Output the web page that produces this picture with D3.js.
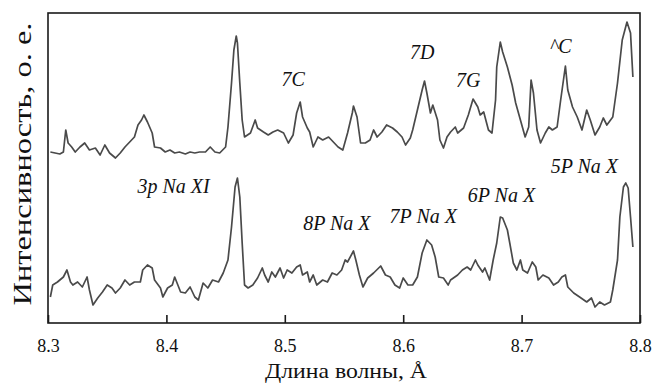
<!DOCTYPE html>
<html>
<head>
<meta charset="utf-8">
<script src="https://cdn.jsdelivr.net/npm/d3@7"></script>
<style>
  body { margin: 0; background: #fff; }
  svg { display: block; }
  svg text { font-family: "Liberation Serif", "Times New Roman", Times, serif; fill: #111; }
</style>
</head>
<body>
<div id="container"></div>
<script>
/* DATA */
// wavelength, angstrom
var topLambda = [8.302,8.306,8.310,8.313,8.315,8.317,8.320,8.323,8.327,8.331,8.335,8.340,8.344,8.348,8.352,8.357,8.361,8.365,8.369,8.373,
  8.376,8.379,8.381,8.384,8.388,8.390,8.395,8.399,8.403,8.407,8.411,8.416,8.420,8.424,8.428,8.433,8.437,8.441,8.445,8.450,
  8.452,8.455,8.457,8.459,8.460,8.462,8.464,8.466,8.471,8.475,8.477,8.482,8.486,8.490,8.494,8.499,8.503,8.507,8.510,8.513,
  8.515,8.519,8.521,8.524,8.528,8.532,8.537,8.541,8.545,8.549,8.553,8.557,8.558,8.561,8.564,8.568,8.572,8.575,8.578,8.582,
  8.586,8.591,8.595,8.599,8.602,8.606,8.608,8.612,8.616,8.618,8.620,8.623,8.625,8.629,8.631,8.634,8.637,8.640,8.644,8.646,
  8.651,8.655,8.659,8.663,8.665,8.668,8.672,8.675,8.678,8.679,8.682,8.684,8.688,8.692,8.695,8.699,8.703,8.706,8.708,8.710,
  8.713,8.716,8.720,8.723,8.726,8.730,8.733,8.737,8.739,8.743,8.747,8.751,8.755,8.758,8.762,8.766,8.769,8.772,8.777,8.781,
  8.785,8.789,8.792,8.794]
// intensity, arb. units (upper spectrum, shifted up)
var topIntensity = [171,170,169,171,193,180,176,171,176,180,173,175,168,178,170,165,170,176,181,186,
  198,203,208,201,190,176,175,171,173,170,171,169,171,170,171,171,176,171,170,176,
  196,240,273,287,280,240,203,186,190,203,195,191,188,191,193,190,180,188,210,221,
  206,195,191,176,186,183,186,181,176,173,190,210,217,206,180,180,183,193,186,191,
  198,195,191,186,178,185,193,213,233,242,230,210,218,203,183,175,186,191,196,190,
  195,208,224,216,208,211,193,190,223,256,281,271,256,238,220,203,186,196,243,230,
  193,180,190,196,193,196,223,257,233,216,206,193,213,203,188,196,205,198,206,240,
  283,301,290,246]

var bottomLambda = [8.302,8.304,8.308,8.313,8.316,8.319,8.321,8.325,8.329,8.333,8.335,8.338,8.342,8.346,8.350,8.354,8.357,8.361,8.365,8.369,
  8.373,8.378,8.380,8.384,8.388,8.390,8.395,8.397,8.401,8.405,8.407,8.412,8.416,8.420,8.424,8.427,8.431,8.435,8.439,8.444,
  8.448,8.452,8.455,8.458,8.460,8.462,8.464,8.466,8.469,8.473,8.477,8.481,8.483,8.486,8.489,8.492,8.496,8.499,8.502,8.506,
  8.510,8.513,8.515,8.519,8.521,8.524,8.527,8.532,8.536,8.540,8.544,8.548,8.551,8.553,8.558,8.560,8.563,8.566,8.570,8.575,
  8.581,8.585,8.589,8.593,8.597,8.600,8.604,8.608,8.612,8.616,8.620,8.624,8.627,8.630,8.634,8.638,8.640,8.646,8.650,8.654,
  8.657,8.661,8.663,8.667,8.669,8.673,8.676,8.679,8.682,8.684,8.688,8.690,8.693,8.696,8.699,8.701,8.705,8.709,8.712,8.714,
  8.718,8.723,8.727,8.731,8.734,8.737,8.739,8.744,8.749,8.755,8.759,8.762,8.766,8.770,8.775,8.777,8.781,8.783,8.786,8.788,
  8.790,8.792,8.794]
var bottomIntensity = [26,38,41,46,53,41,38,41,36,46,33,18,25,31,38,35,30,35,43,38,
  41,41,53,58,55,43,35,26,35,38,46,31,30,36,26,23,40,35,43,41,
  50,63,96,136,145,126,80,38,35,38,45,55,48,41,51,46,55,45,53,50,
  56,58,48,51,41,48,38,43,41,50,48,53,63,61,72,63,48,36,45,50,
  57,48,46,38,35,45,38,38,46,70,83,78,66,46,45,38,43,48,53,56,
  53,63,58,51,55,43,63,80,106,105,93,80,60,53,63,53,50,61,56,43,
  48,45,38,41,46,48,36,30,26,21,25,16,21,18,21,33,63,106,136,140,
  135,106,76]

var xTicks = [8.3, 8.4, 8.5, 8.6, 8.7, 8.8]

// line identifications: label, wavelength, intensity level of the baseline
var labelText = ['7C', '7D', '7G', '^C', '5P Na X', '3p Na XI', '8P Na X', '7P Na X', '6P Na X']
var labelLambda = [8.507, 8.616, 8.655, 8.733, 8.753, 8.406, 8.544, 8.617, 8.683]
var labelLevel = [237, 264, 236, 270, 150, 130, 93, 100, 121]

/* SET UP */
var width = 652, height = 383
var margin = { left: 48, right: 12, top: 13, bottom: 60 }
var serif = '"Liberation Serif", "Times New Roman", Times, serif'

var svg = d3.select('#container')
  .append('svg')
  .attr('width', width)
  .attr('height', height)

var x = d3.scaleLinear()
  .domain([8.3, 8.8])
  .range([margin.left, width - margin.right])

var y = d3.scaleLinear()
  .domain([0, 310])
  .range([height - margin.bottom, margin.top])

/* SPECTRA */
var line = d3.line()
  .x(function(d) { return x(d[0]) })
  .y(function(d) { return y(d[1]) })

var spectra = [d3.zip(topLambda, topIntensity), d3.zip(bottomLambda, bottomIntensity)]

svg.selectAll('path.spectrum')
  .data(spectra)
  .enter()
  .append('path')
  .attr('class', 'spectrum')
  .attr('d', line)
  .attr('fill', 'none')
  .attr('stroke', '#4a4a4a')
  .attr('stroke-width', 1.7)
  .attr('stroke-linejoin', 'round')

/* FRAME AND AXIS */
svg.append('rect')
  .attr('x', x(8.3))
  .attr('y', y(310))
  .attr('width', x(8.8) - x(8.3))
  .attr('height', y(0) - y(310))
  .attr('fill', 'none')
  .attr('stroke', '#1a1a1a')
  .attr('stroke-width', 1.6)

var xAxis = d3.axisBottom(x)
  .tickValues(xTicks)
  .tickFormat(d3.format('.1f'))
  .tickSizeInner(-8)
  .tickSizeOuter(0)

var gx = svg.append('g')
  .attr('transform', 'translate(0,' + y(0) + ')')
  .call(xAxis)
  .attr('font-family', serif)

gx.select('.domain').remove()
gx.selectAll('.tick line').attr('stroke', '#1a1a1a').attr('stroke-width', 1.6)
gx.selectAll('.tick text')
  .attr('y', 29)
  .attr('dy', 0)
  .attr('fill', '#111')
  .attr('font-family', serif)
  .attr('font-size', 18)

svg.append('text')
  .attr('x', (x(8.3) + x(8.8)) / 2 + 2)
  .attr('y', 378)
  .attr('text-anchor', 'middle')
  .attr('textLength', 162)
  .attr('lengthAdjust', 'spacingAndGlyphs')
  .attr('font-family', serif)
  .attr('font-size', 21)
  .text('Длина волны, Å')

svg.append('text')
  .attr('transform', 'translate(31,' + 164 + ') rotate(-90)')
  .attr('text-anchor', 'middle')
  .attr('textLength', 283)
  .attr('lengthAdjust', 'spacingAndGlyphs')
  .attr('font-family', serif)
  .attr('font-size', 25)
  .text('Интенсивность, о. е.')

/* LABELS */
svg.selectAll('text.label')
  .data(d3.range(labelText.length))
  .enter()
  .append('text')
  .attr('class', 'label')
  .attr('x', function(i) { return x(labelLambda[i]) })
  .attr('y', function(i) { return y(labelLevel[i]) })
  .attr('text-anchor', 'middle')
  .attr('font-family', serif)
  .attr('font-style', 'italic')
  .attr('font-size', 20)
  .text(function(i) { return labelText[i] })
</script>
</body>
</html>
